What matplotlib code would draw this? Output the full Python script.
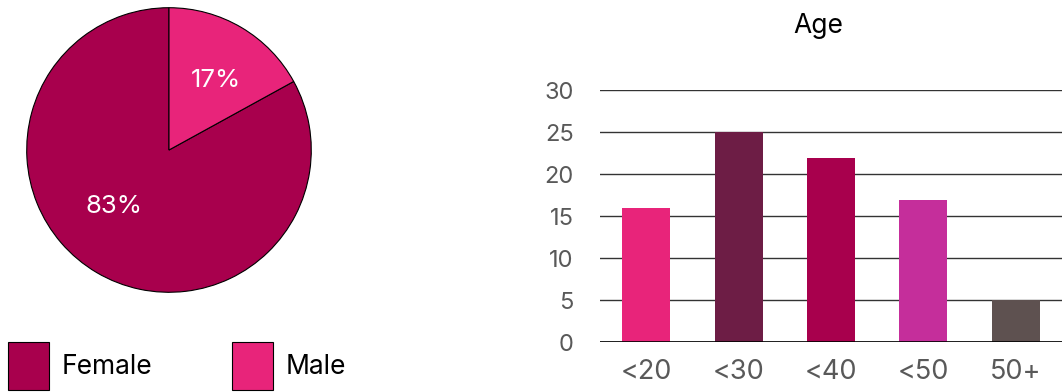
import matplotlib
matplotlib.use('Agg')
import matplotlib.pyplot as plt
import numpy as np

plt.rcParams['font.family'] = ['Inter', 'DejaVu Sans']

# gender split (pie)
gender_labels = ['Female', 'Male']
gender_share = [83, 17]
gender_colors = ['#A8004D', '#E8247A']

# age distribution (bars)
age_groups = ['<20', '<30', '<40', '<50', '50+']
age_counts = [16, 25, 22, 17, 5]
age_colors = ['#E8247A', '#6D1D45', '#A8004D', '#C52E9B', '#5E5150']

W, H = 1062, 392
fig = plt.figure(figsize=(W / 100, H / 100), dpi=100)

# --- pie ---
ax_pie = fig.add_axes([26 / W, (H - 293) / H, 286 / W, 286 / H])
wedges, _, autotexts = ax_pie.pie(
    gender_share, colors=gender_colors, startangle=90,
    autopct='%d%%', pctdistance=0.58,
    wedgeprops=dict(edgecolor='black', linewidth=0.8),
    textprops=dict(color='white', fontsize=18.5))
ax_pie.set_xlim(-1.005, 1.005)
ax_pie.set_ylim(-1.005, 1.005)
# label placement as in the original
autotexts[0].set_position((-0.39, -0.40))
autotexts[1].set_position((0.33, 0.49))

fig.legend(wedges, gender_labels, loc='lower left', bbox_to_anchor=(8 / W, 2 / H),
           ncol=2, frameon=False, handlelength=1.55, handleheight=2.4,
           handletextpad=0.5, columnspacing=3.0, borderpad=0, borderaxespad=0,
           prop=dict(size=19))

# --- bars ---
ax_bar = fig.add_axes([600 / W, (H - 342.3) / H, 462 / W, 252 / H])
x = np.arange(len(age_groups))
ax_bar.bar(x, age_counts, width=0.52, color=age_colors, zorder=2)
ax_bar.set_xlim(-0.5, len(age_groups) - 0.5)
ax_bar.set_ylim(0, 30)
ax_bar.set_yticks(range(0, 31, 5))
ax_bar.set_xticks(x, age_groups)
for s in ax_bar.spines.values():
    s.set_visible(False)
ax_bar.grid(axis='y', color='#333333', linewidth=1, zorder=1)
ax_bar.axhline(0, color='black', linewidth=1.2, zorder=3)
ax_bar.tick_params(axis='y', length=0, pad=19, labelsize=17, labelcolor='#595959')
ax_bar.tick_params(axis='x', length=0, pad=12, labelsize=19.5, labelcolor='#595959')

fig.text(818 / W, 1 - 26 / H, 'Age', ha='center', va='center', fontsize=19,
         color='black')

fig.savefig('out.png', dpi=100)
